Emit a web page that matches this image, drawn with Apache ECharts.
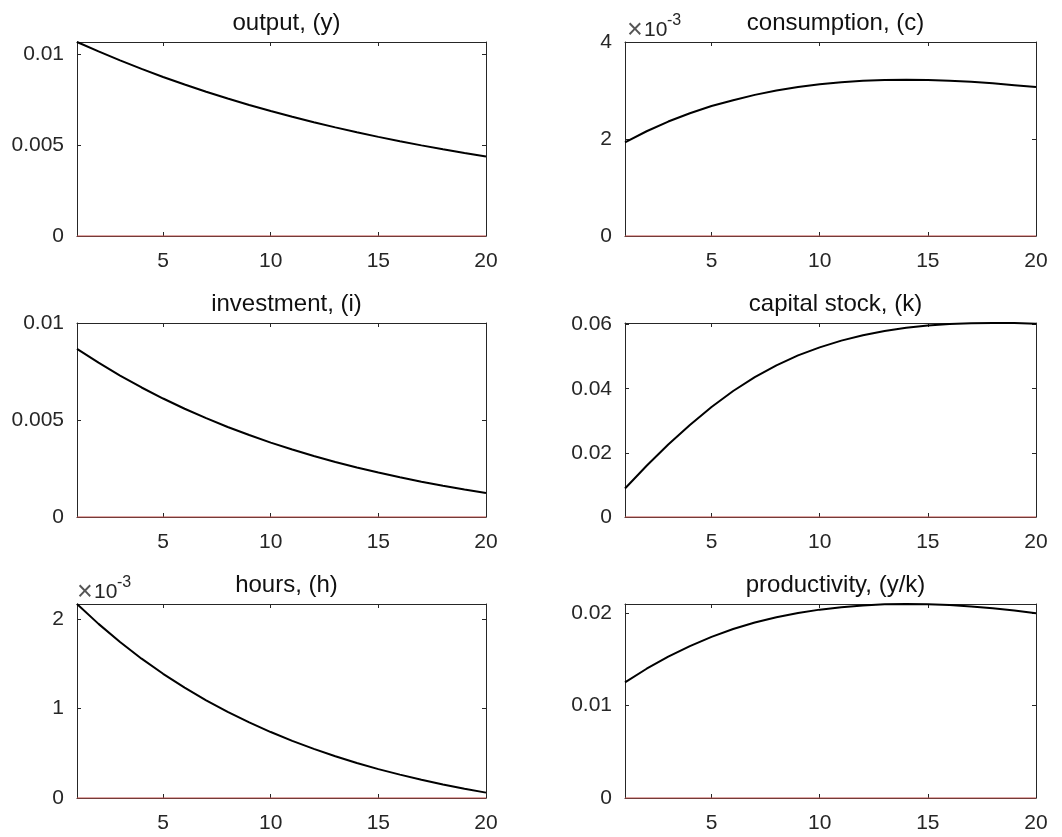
<!DOCTYPE html>
<html>
<head>
<meta charset="utf-8">
<script src="https://cdn.jsdelivr.net/npm/echarts@6/dist/echarts.min.js"></script>
<style>
html,body{margin:0;padding:0;background:#fff;}
#chart{width:1062px;height:837px;}
</style>
</head>
<body>
<div id="chart"></div>
<script>
// ---- data ----
const periods = [1,2,3,4,5,6,7,8,9,10,11,12,13,14,15,16,17,18,19,20];
const output = [0.01068,0.01016,0.009665,0.009198,0.008756,0.008338,0.007942,0.007568,0.007214,0.006879,0.006562,0.006263,0.005979,0.005711,0.005457,0.005217,0.004989,0.004774,0.004571,0.004378];
const consumption = [0.00193,0.00216,0.00236,0.00253,0.00268,0.00280,0.00291,0.00300,0.00307,0.00313,0.00317,0.00320,0.003215,0.00322,0.003215,0.00320,0.00318,0.00315,0.00311,0.00307];
const investment = [0.00867,0.007953,0.00729,0.006676,0.006107,0.00558,0.005093,0.004641,0.004224,0.003836,0.003478,0.003146,0.002839,0.002555,0.002291,0.002047,0.001822,0.001612,0.001419,0.00124];
const capital = [0.0089,0.0160,0.0226,0.0287,0.0343,0.0393,0.0436,0.0473,0.0504,0.0529,0.0550,0.0567,0.0580,0.0590,0.0597,0.0602,0.0604,0.0605,0.0605,0.0603];
const hours = [0.002168,0.001946,0.001743,0.001557,0.001388,0.001233,0.001092,0.000963,0.000845,0.000737,0.000639,0.000549,0.000467,0.000392,0.000323,0.000261,0.000203,0.000151,0.000104,0.00006];
const productivity = [0.01253,0.0140,0.0153,0.01645,0.01745,0.0183,0.0190,0.01957,0.02003,0.0204,0.02066,0.02085,0.02097,0.02101,0.02098,0.02089,0.02074,0.02054,0.0203,0.0200];
const zeroLine = [0,0,0,0,0,0,0,0,0,0,0,0,0,0,0,0,0,0,0,0];

const titles = ['output, (y)','consumption, (c)','investment, (i)','capital stock, (k)','hours, (h)','productivity, (y/k)'];
const seriesList = [output, consumption, investment, capital, hours, productivity];
const xTicks = [5,10,15,20];
const yMax = [0.01068, 0.004, 0.01, 0.0605, 0.002168, 0.02101];
const yTicks = [
  [0, 0.005, 0.01],
  [0, 0.002, 0.004],
  [0, 0.005, 0.01],
  [0, 0.02, 0.04, 0.06],
  [0, 0.001, 0.002],
  [0, 0.01, 0.02]
];
const yTickLabels = [
  ['0','0.005','0.01'],
  ['0','2','4'],
  ['0','0.005','0.01'],
  ['0','0.02','0.04','0.06'],
  ['0','1','2'],
  ['0','0.01','0.02']
];
const exponentText = ['', '10', '', '', '10', ''];
const exponentSup = ['', '-3', '', '', '-3', ''];

// ---- layout ----
const colLeft = [77, 625];
const colWidth = [409, 411];
const rowTop = [42, 323, 604];
const plotH = 194;
const FONT = '"Liberation Sans", Arial, Helvetica, sans-serif';
const AX = '#262626';

const grids = [], xAxes = [], yAxes = [], series = [], titleArr = [], graphics = [];
for (let i = 0; i < 6; i++) {
  const c = i % 2, r = Math.floor(i / 2);
  grids.push({left: colLeft[c], top: rowTop[r], width: colWidth[c], height: plotH, containLabel: false});
  const ticks = yTicks[i], labs = yTickLabels[i];
  const fmt = (v) => {
    for (let k = 0; k < ticks.length; k++) if (Math.abs(v - ticks[k]) < 1e-9) return labs[k];
    return '';
  };
  xAxes.push({type:'value', gridIndex:i, position:'bottom', min:1, max:20,
    axisLine:{show:true, onZero:false, lineStyle:{color:AX, width:1}},
    axisTick:{show:true, inside:true, length:4, customValues:xTicks, lineStyle:{color:AX}},
    axisLabel:{show:true, customValues:xTicks, margin:15, fontSize:21, fontFamily:FONT, color:AX},
    splitLine:{show:false}});
  xAxes.push({type:'value', gridIndex:i, position:'top', min:1, max:20,
    axisLine:{show:true, onZero:false, lineStyle:{color:AX, width:1}},
    axisTick:{show:true, inside:true, length:4, customValues:xTicks, lineStyle:{color:AX}},
    axisLabel:{show:false}, splitLine:{show:false}});
  yAxes.push({type:'value', gridIndex:i, position:'left', min:0, max:yMax[i],
    axisLine:{show:true, onZero:false, lineStyle:{color:AX, width:1}},
    axisTick:{show:true, inside:true, length:4, customValues:ticks, lineStyle:{color:AX}},
    axisLabel:{show:true, customValues:ticks, formatter:fmt, margin:13, fontSize:21, fontFamily:FONT, color:AX},
    splitLine:{show:false}});
  yAxes.push({type:'value', gridIndex:i, position:'right', min:0, max:yMax[i],
    axisLine:{show:true, onZero:false, lineStyle:{color:AX, width:1}},
    axisTick:{show:true, inside:true, length:4, customValues:ticks, lineStyle:{color:AX}},
    axisLabel:{show:false}, splitLine:{show:false}});

  series.push({type:'line', xAxisIndex:2*i, yAxisIndex:2*i, showSymbol:false, symbol:'none',
    data: periods.map((t, j) => [t, seriesList[i][j]]),
    lineStyle:{color:'#000', width:2}, clip:true, z:3});
  series.push({type:'line', xAxisIndex:2*i, yAxisIndex:2*i, showSymbol:false, symbol:'none',
    data: periods.map((t, j) => [t, zeroLine[j]]),
    lineStyle:{color:'#c0504d', width:1.2}, clip:false, z:4});

  titleArr.push({text: titles[i], left: colLeft[c] + colWidth[c] / 2, textAlign:'center',
    top: rowTop[r] - 36,
    textStyle:{fontSize:24, fontWeight:'normal', fontFamily:FONT, color:'#111'}});

  if (exponentText[i]) {
    const x0 = colLeft[c] + (c === 1 ? 3 : 1);
    const yMid = rowTop[r] - 12;
    graphics.push({type:'text', style:{text:'\u00d7', x:x0 - 1, y:yMid + 1, font:'27px ' + FONT, fill:'#555', verticalAlign:'middle'}});
    graphics.push({type:'text', style:{text:exponentText[i], x:x0 + 16, y:yMid, font:'21px ' + FONT, fill:AX, verticalAlign:'middle'}});
    graphics.push({type:'text', style:{text:exponentSup[i], x:x0 + 39, y:yMid - 9, font:'16px ' + FONT, fill:AX, verticalAlign:'middle'}});
  }
}

const chart = echarts.init(document.getElementById('chart'), null, {renderer:'canvas'});
chart.setOption({
  animation:false,
  backgroundColor:'#fff',
  title: titleArr,
  grid: grids,
  xAxis: xAxes,
  yAxis: yAxes,
  series: series,
  graphic: graphics
});
</script>
</body>
</html>
